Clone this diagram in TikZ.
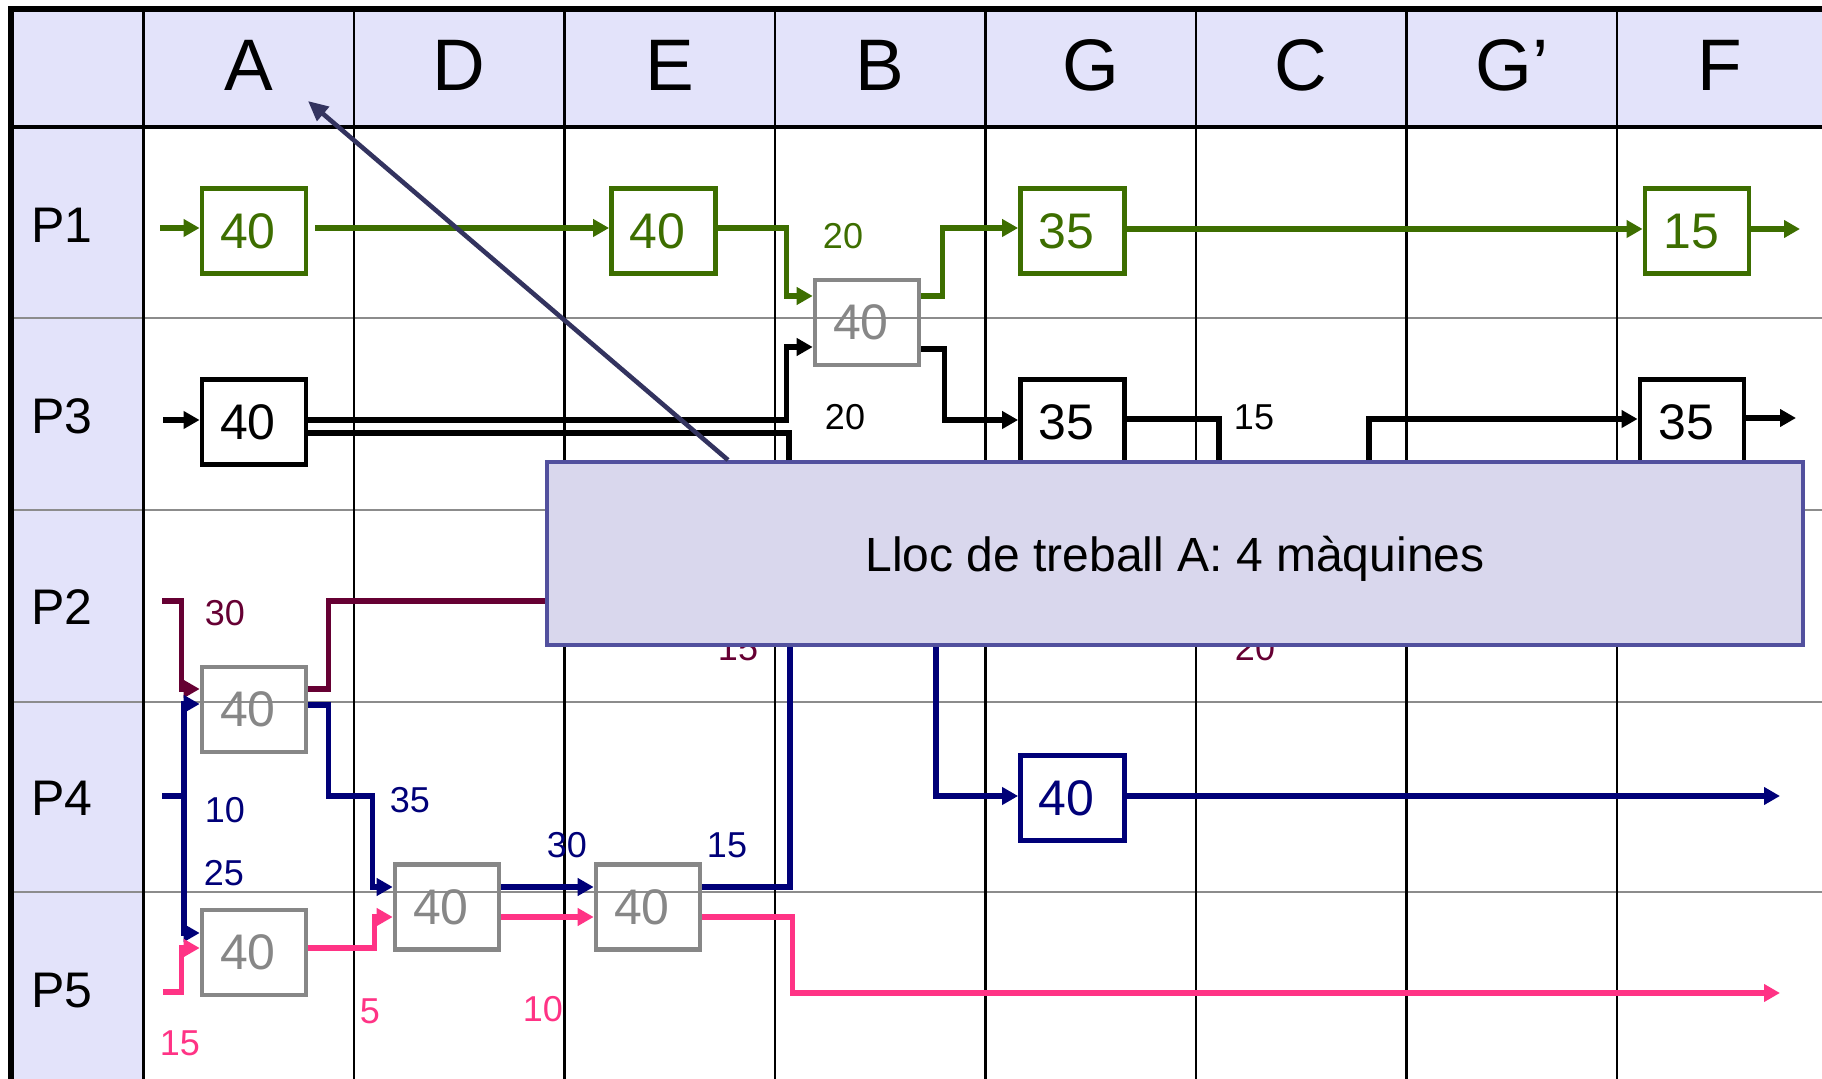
\documentclass[tikz,border=0pt]{standalone}
\usepackage{fontspec}
\setmainfont{Liberation Sans}
\usetikzlibrary{arrows.meta,calc}
\definecolor{pgreen}{RGB}{61,110,0}
\definecolor{pmaroon}{RGB}{102,0,51}
\definecolor{pnavy}{RGB}{0,0,120}
\definecolor{ppink}{RGB}{255,51,133}
\definecolor{boxgray}{RGB}{135,135,135}
\definecolor{hdr}{RGB}{227,227,250}
\definecolor{callfill}{RGB}{217,215,237}
\definecolor{callbd}{RGB}{82,80,158}
\definecolor{ptr}{RGB}{51,51,95}
\definecolor{gridgray}{RGB}{140,140,140}
\newcommand{\mnum}[1]{#1\rule{6pt}{0pt}}
\begin{document}
\begin{tikzpicture}[x=0.5pt,y=-0.5pt,
 mach/.style={draw, line width=2.4pt, minimum width=52pt, minimum height=42.5pt, inner sep=0pt, text depth=0pt, font=\fontsize{25}{28}\selectfont},
 gmach/.style={mach, draw=boxgray, text=boxgray, line width=2.3pt},
 flow/.style={line width=2.7pt, -{Triangle[length=8pt,width=8.5pt]}},
 flown/.style={line width=2.7pt},
 lab/.style={font=\fontsize{18}{20}\selectfont, inner sep=0pt},
 hdrtxt/.style={font=\fontsize{36.5}{40}\selectfont, anchor=base, inner sep=0pt},
 rowtxt/.style={font=\fontsize{25}{30}\selectfont, anchor=base west, inner sep=0pt}
]
\useasboundingbox (0,0) rectangle (1822,1079);
% grid
\fill[hdr] (10.5,9.5) rectangle (1822,127);
\fill[hdr] (10.5,127) rectangle (143.5,1079);
\foreach \y in {318,510,702,892} \draw[gridgray, line width=1.4pt] (10.5,\y) -- (1822,\y);
\foreach \x in {143.5,354,564.5,775,985.5,1196,1406.5,1617} \draw[line width=1.1pt] (\x,9.5) -- (\x,1079);
\draw[line width=1.6pt] (10.5,127) -- (1822,127);
\draw[line width=3pt] (10.5,1079) -- (10.5,9.5) -- (1822,9.5);
% headers
\node[hdrtxt] (hA) at (248.75,91) {A};
\node[hdrtxt] (hD) at (459.25,91) {D};
\node[hdrtxt] (hE) at (669.75,91) {E};
\node[hdrtxt] (hB) at (880.25,91) {B};
\node[hdrtxt] (hG) at (1090.75,91) {G};
\node[hdrtxt] (hC) at (1301.25,91) {C};
\node[hdrtxt] (hGp) at (1511.75,91) {G’};
\node[hdrtxt] (hF) at (1720,91) {F};
\node[rowtxt] (r1) at (31,243) {P1};
\node[rowtxt] (r3) at (31,434) {P3};
\node[rowtxt] (r2) at (31,624.5) {P2};
\node[rowtxt] (r4) at (31,816) {P4};
\node[rowtxt] (r5) at (31,1007) {P5};
% machines
\node[mach, pgreen] (g1) at (254,231) {\mnum{40}};
\node[mach, pgreen] (g2) at (663.5,231) {\mnum{40}};
\node[gmach] (gB) at (867,322.5) {\mnum{40}};
\node[mach, pgreen] (g3) at (1072.5,231) {\mnum{35}};
\node[mach, pgreen] (g4) at (1697,231) {\mnum{15}};
\node[mach] (k1) at (254,422) {\mnum{40}};
\node[mach] (k2) at (1072.5,422) {\mnum{35}};
\node[mach] (k3) at (1692,422) {\mnum{35}};
\node[gmach] (a1) at (254,709.5) {\mnum{40}};
\node[gmach] (a2) at (254,952.5) {\mnum{40}};
\node[gmach] (d1) at (447,907) {\mnum{40}};
\node[gmach] (e1) at (648,907) {\mnum{40}};
\node[mach, pnavy] (b1) at (1072.5,798) {\mnum{40}};
% green P1
\coordinate (gs) at (160,228);
\coordinate (ge) at (1800,229);
\draw[flow,pgreen] (gs) -- ($(g1.west)+(0,-3)$);
\draw[flow,pgreen] ($(g1.east)+(7,-3)$) -- ($(g2.west)+(0,-3)$);
\draw[flow,pgreen] ($(g2.east)+(0,-3)$) -| ($(gB.west)+(-26,-26.5)$) -- ($(gB.west)+(0,-26.5)$);
\draw[flow,pgreen] ($(gB.east)+(0,-26.5)$) -- ++(21,0) |- ($(g3.west)+(0,-3)$);
\draw[flow,pgreen] ($(g3.east)+(0,-2)$) -- ($(g4.west)+(0,-2)$);
\draw[flow,pgreen] ($(g4.east)+(0,-2)$) -- (ge);
% black P3
\coordinate (ks) at (163,420);
\coordinate (kh1) at (789,520);
\coordinate (kh2) at (1219,520);
\coordinate (kh3) at (1369,520);
\coordinate (ke) at (1796,418);
\draw[flow] (ks) -- ($(k1.west)+(0,-2)$);
\draw[flow] ($(k1.east)+(0,-2)$) -| ($(gB.west)+(-26,24.5)$) -- ($(gB.west)+(0,24.5)$);
\draw[flown] ($(k1.east)+(0,11)$) -| (kh1);
\draw[flow] ($(gB.east)+(0,26.5)$) -- ++(23,0) |- ($(k2.west)+(0,-2)$);
\draw[flown] ($(k2.east)+(0,-3)$) -| (kh2);
\draw[flow] (kh3) |- ($(k3.west)+(0,-3)$);
\draw[flow] ($(k3.east)+(0,-4)$) -- (ke);
% maroon P2
\coordinate (ms) at (162,601);
\coordinate (mh) at (640,601);
\draw[flow,pmaroon] (ms) -| ($(a1.west)+(-18,-20.5)$) -- ($(a1.west)+(0,-20.5)$);
\draw[flown,pmaroon] ($(a1.east)+(0,-20.5)$) -- ++(20,0) |- (mh);
% navy P4
\coordinate (ns) at (162,796);
\coordinate (nj) at (184,796);
\coordinate (nh1) at (790,560);
\coordinate (nh2) at (936,560);
\coordinate (ne) at (1780,796);
\draw[flown,pnavy] (ns) -- (nj);
\draw[flow,pnavy] (nj) |- ($(a1.west)+(0,-5.5)$);
\draw[flow,pnavy] (nj) |- ($(a2.west)+(0,-19.5)$);
\draw[flow,pnavy] ($(a1.east)+(0,-4.5)$) -- ++(20,0) |- ++(44,91) |- ($(d1.west)+(0,-20)$);
\draw[flow,pnavy] ($(d1.east)+(0,-20)$) -- ($(e1.west)+(0,-20)$);
\draw[flown,pnavy] ($(e1.east)+(0,-20)$) -| (nh1);
\draw[flow,pnavy] (nh2) |- ($(b1.west)+(0,-2)$);
\draw[flow,pnavy] ($(b1.east)+(0,-2)$) -- (ne);
% pink P5
\coordinate (ps) at (163,992);
\coordinate (pe) at (1780,993);
\draw[flow,ppink] (ps) -| ($(a2.west)+(-18,-4.5)$) -- ($(a2.west)+(0,-4.5)$);
\draw[flow,ppink] ($(a2.east)+(0,-4.5)$) -- ++(66,0) |- ($(d1.west)+(0,10)$);
\draw[flow,ppink] ($(d1.east)+(0,10)$) -- ($(e1.west)+(0,10)$);
\draw[flow,ppink] ($(e1.east)+(0,10)$) -- ++(90,0) |- (pe);
% labels
\node[lab,pgreen] (lg1) at (843,236) {20};
\node[lab] (lk1) at (845,417) {20};
\node[lab] (lk2) at (1254,417) {15};
\node[lab,pmaroon] (lm1) at (225,613) {30};
\node[lab,pmaroon] (lm2) at (738,648) {15};
\node[lab,pmaroon] (lm3) at (1255,648) {20};
\node[lab,pnavy] (ln1) at (225,810) {10};
\node[lab,pnavy] (ln2) at (224,873) {25};
\node[lab,pnavy] (ln3) at (410,800) {35};
\node[lab,pnavy] (ln4) at (567,845) {30};
\node[lab,pnavy] (ln5) at (727,845) {15};
\node[lab,ppink] (lp1) at (180,1043) {15};
\node[lab,ppink] (lp2) at (370,1011) {5};
\node[lab,ppink] (lp3) at (543,1009) {10};
% callout
\node[draw=callbd, fill=callfill, line width=2pt, minimum width=628pt, minimum height=91.5pt, inner sep=0pt, text depth=0pt, font=\fontsize{24}{28}\selectfont] (call) at (1175,553.5) {Lloc de treball A: 4 màquines};
\coordinate (tip) at (308,101);
\draw[ptr, line width=2.3pt, -{Triangle[length=10pt,width=9pt]}] ($(call.north west)+(183,0)$) -- (tip);
\end{tikzpicture}
\end{document}
